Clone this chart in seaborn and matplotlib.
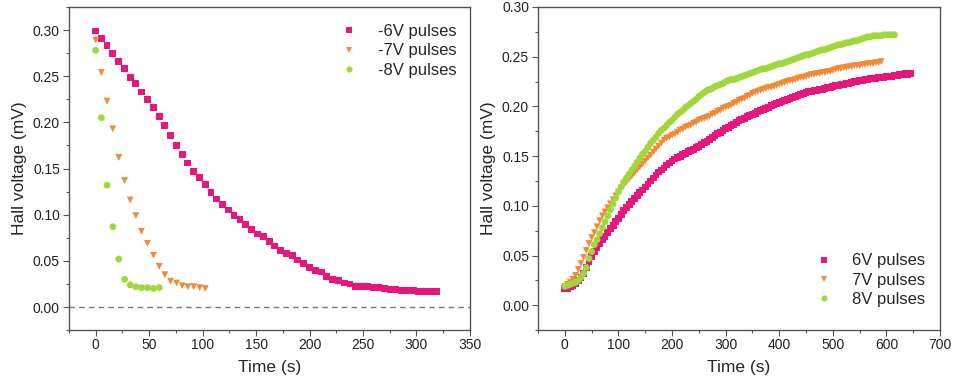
import numpy as np
import pandas as pd
import matplotlib
matplotlib.use("Agg")
import matplotlib.pyplot as plt
from matplotlib.ticker import MultipleLocator
import seaborn as sns

# ---- left panel: decay under negative pulses ----
t_m6 = [0, 5.3, 10.6, 16, 21.6, 27, 32.2, 37.5, 42.8, 48.4, 54, 59.4, 64.7, 70, 75.6,
        80.9, 86.2, 91.6, 97.2, 102.5, 107.8, 113.1, 118.7, 124, 129.4, 135, 140.3,
        145.9, 151.2, 156.6, 162.2, 167.5, 172.8, 178.4, 183.7, 189, 194.7, 200, 205.3,
        210.9, 216.2, 221.6, 227.2, 232.5, 237.8, 243.1, 248.7, 254, 259.4, 264.7,
        270.3, 275.6, 280.9, 286.2, 291.6, 296.9, 302.2, 307.5, 313.1, 318.8]
v_m6 = [0.299, 0.291, 0.283, 0.275, 0.266, 0.258, 0.249, 0.242, 0.233, 0.225, 0.216,
        0.206, 0.197, 0.186, 0.175, 0.165, 0.156, 0.147, 0.140, 0.133, 0.124, 0.117,
        0.111, 0.105, 0.099, 0.095, 0.089, 0.084, 0.079, 0.076, 0.071, 0.066, 0.061,
        0.058, 0.056, 0.051, 0.047, 0.043, 0.040, 0.038, 0.033, 0.030, 0.029, 0.026,
        0.025, 0.022, 0.022, 0.022, 0.021, 0.021, 0.020, 0.019, 0.019, 0.018, 0.018,
        0.018, 0.017, 0.017, 0.017, 0.017]

t_m7 = [0, 5.3, 10.6, 16, 21.6, 27, 32.2, 37.5, 42.8, 48.4, 54, 59.4, 64.7, 70, 75.6,
        80.9, 86.2, 91.6, 97.2, 102.5]
v_m7 = [0.289, 0.254, 0.223, 0.193, 0.162, 0.137, 0.116, 0.099, 0.082, 0.069, 0.056,
        0.044, 0.035, 0.028, 0.026, 0.023, 0.022, 0.022, 0.021, 0.020]

t_m8 = [0, 5.3, 10.6, 16, 21.6, 27, 32.2, 37.5, 42.8, 48.4, 54, 59.4]
v_m8 = [0.278, 0.205, 0.132, 0.087, 0.052, 0.030, 0.024, 0.022, 0.021, 0.021, 0.020, 0.021]

# ---- right panel: rise under positive pulses (one reading every 5 s) ----
DT = 5.0
v_p6 = [0.017, 0.017, 0.019, 0.020, 0.022, 0.025, 0.028, 0.032, 0.038, 0.044, 0.049,
        0.054, 0.058, 0.062, 0.066, 0.069, 0.073, 0.077, 0.080, 0.084, 0.087, 0.091,
        0.095, 0.098, 0.101, 0.104, 0.107, 0.110, 0.113, 0.116, 0.119, 0.122, 0.125,
        0.128, 0.131, 0.134, 0.136, 0.138, 0.141, 0.143, 0.145, 0.147, 0.149, 0.150,
        0.152, 0.153, 0.155, 0.156, 0.157, 0.159, 0.160, 0.162, 0.164, 0.165, 0.167,
        0.169, 0.171, 0.173, 0.174, 0.176, 0.178, 0.179, 0.181, 0.182, 0.184, 0.186,
        0.187, 0.188, 0.190, 0.191, 0.192, 0.193, 0.195, 0.196, 0.197, 0.198, 0.199,
        0.201, 0.202, 0.203, 0.204, 0.205, 0.206, 0.207, 0.208, 0.209, 0.210, 0.211,
        0.212, 0.213, 0.214, 0.215, 0.215, 0.216, 0.216, 0.217, 0.217, 0.218, 0.219,
        0.219, 0.220, 0.221, 0.221, 0.222, 0.222, 0.223, 0.223, 0.224, 0.225, 0.225,
        0.226, 0.226, 0.227, 0.227, 0.228, 0.228, 0.228, 0.229, 0.229, 0.229, 0.230,
        0.230, 0.230, 0.231, 0.231, 0.232, 0.232, 0.233, 0.232, 0.233]
v_p7 = [0.019, 0.021, 0.023, 0.026, 0.030, 0.036, 0.042, 0.048, 0.055, 0.062, 0.068,
        0.073, 0.079, 0.085, 0.090, 0.094, 0.098, 0.102, 0.106, 0.110, 0.114, 0.118,
        0.121, 0.124, 0.127, 0.130, 0.133, 0.136, 0.139, 0.142, 0.145, 0.148, 0.151,
        0.154, 0.157, 0.160, 0.163, 0.166, 0.168, 0.169, 0.171, 0.172, 0.174, 0.176,
        0.177, 0.179, 0.180, 0.181, 0.183, 0.184, 0.186, 0.187, 0.188, 0.189, 0.190,
        0.192, 0.193, 0.195, 0.196, 0.198, 0.199, 0.200, 0.201, 0.203, 0.204, 0.206,
        0.207, 0.208, 0.210, 0.211, 0.213, 0.214, 0.215, 0.216, 0.217, 0.218, 0.219,
        0.219, 0.220, 0.221, 0.222, 0.223, 0.224, 0.225, 0.226, 0.226, 0.227, 0.228,
        0.229, 0.229, 0.230, 0.231, 0.232, 0.232, 0.233, 0.233, 0.234, 0.234, 0.235,
        0.235, 0.236, 0.237, 0.238, 0.238, 0.239, 0.239, 0.240, 0.240, 0.241, 0.241,
        0.241, 0.242, 0.242, 0.243, 0.243, 0.243, 0.244, 0.244, 0.245]
v_p8 = [0.019, 0.020, 0.021, 0.022, 0.023, 0.025, 0.028, 0.032, 0.038, 0.047, 0.054,
        0.061, 0.066, 0.072, 0.078, 0.084, 0.090, 0.096, 0.102, 0.108, 0.114, 0.119,
        0.124, 0.128, 0.132, 0.136, 0.140, 0.144, 0.148, 0.152, 0.155, 0.159, 0.163,
        0.166, 0.169, 0.173, 0.176, 0.178, 0.181, 0.184, 0.186, 0.189, 0.192, 0.194,
        0.196, 0.199, 0.201, 0.203, 0.205, 0.207, 0.210, 0.212, 0.214, 0.216, 0.217,
        0.218, 0.220, 0.221, 0.222, 0.223, 0.225, 0.226, 0.227, 0.227, 0.228, 0.229,
        0.230, 0.231, 0.232, 0.233, 0.234, 0.235, 0.236, 0.237, 0.238, 0.238, 0.239,
        0.240, 0.241, 0.242, 0.243, 0.243, 0.244, 0.245, 0.246, 0.247, 0.248, 0.249,
        0.250, 0.251, 0.252, 0.252, 0.253, 0.254, 0.255, 0.256, 0.257, 0.257, 0.258,
        0.259, 0.260, 0.261, 0.262, 0.262, 0.263, 0.264, 0.264, 0.265, 0.266, 0.266,
        0.267, 0.268, 0.269, 0.270, 0.270, 0.271, 0.271, 0.271, 0.271, 0.272, 0.272,
        0.272, 0.272, 0.272]

PINK = "#e8157c"
ORANGE = "#f08a36"
GREEN = "#9fd83a"

sns.set_style("ticks")
plt.rcParams["font.family"] = ["Liberation Sans", "DejaVu Sans"]
plt.rcParams["axes.edgecolor"] = "#555555"
plt.rcParams["xtick.color"] = "#555555"
plt.rcParams["ytick.color"] = "#555555"
plt.rcParams["xtick.labelcolor"] = "#222222"
plt.rcParams["ytick.labelcolor"] = "#222222"


def style_axes(ax, xmaj, xmin):
    ax.xaxis.set_major_locator(MultipleLocator(xmaj))
    ax.xaxis.set_minor_locator(MultipleLocator(xmin))
    ax.yaxis.set_major_locator(MultipleLocator(0.05))
    ax.yaxis.set_minor_locator(MultipleLocator(0.025))
    ax.yaxis.set_major_formatter(plt.FormatStrFormatter("%.2f"))
    ax.tick_params(which="major", length=4, width=0.8, labelsize=10, pad=2.5)
    ax.tick_params(axis="x", which="major", pad=1.5)
    ax.tick_params(which="minor", length=2.5, width=0.8)
    ax.set_xlabel("Time (s)", fontsize=12.5, labelpad=6)
    ax.set_ylabel("Hall voltage (mV)", fontsize=12.5)
    for sp in ax.spines.values():
        sp.set_linewidth(1.0)


fig = plt.figure(figsize=(9.54, 3.87), dpi=100)
ax1 = fig.add_axes([0.0723, 0.147, 0.4203, 0.835])
ax2 = fig.add_axes([0.564, 0.147, 0.4214, 0.835])

left = pd.concat([
    pd.DataFrame({"t": t_m6, "v": v_m6, "s": "-6V pulses"}),
    pd.DataFrame({"t": t_m7, "v": v_m7, "s": "-7V pulses"}),
    pd.DataFrame({"t": t_m8, "v": v_m8, "s": "-8V pulses"}),
])
right = pd.concat([
    pd.DataFrame({"t": np.arange(len(v_p6)) * DT, "v": v_p6, "s": "6V pulses"}),
    pd.DataFrame({"t": np.arange(len(v_p7)) * DT, "v": v_p7, "s": "7V pulses"}),
    pd.DataFrame({"t": np.arange(len(v_p8)) * DT, "v": v_p8, "s": "8V pulses"}),
])

ax1.axhline(0, color="#777777", lw=1, ls=(0, (4, 3)), zorder=0)
sns.scatterplot(data=left, x="t", y="v", hue="s", style="s",
                palette=[PINK, ORANGE, GREEN], markers=["s", "v", "o"],
                s=24, linewidth=0, ax=ax1)
ax1.set_xlim(-25, 350)
ax1.set_ylim(-0.025, 0.325)
style_axes(ax1, 50, 25)
ax1.legend(loc="upper right", bbox_to_anchor=(1.003, 0.993), frameon=False,
           fontsize=12, handletextpad=0.7, markerscale=0.9, labelspacing=0.25)

sns.scatterplot(data=right, x="t", y="v", hue="s", style="s",
                palette=[PINK, ORANGE, GREEN], markers=["s", "v", "o"],
                s=24, linewidth=0, ax=ax2)
ax2.set_xlim(-50, 700)
ax2.set_ylim(-0.025, 0.30)
style_axes(ax2, 100, 50)
ax2.legend(loc="lower right", bbox_to_anchor=(1.0, 0.026), frameon=False,
           fontsize=12, handletextpad=0.7, markerscale=0.9, labelspacing=0.25)

fig.savefig("out.png", dpi=100)
